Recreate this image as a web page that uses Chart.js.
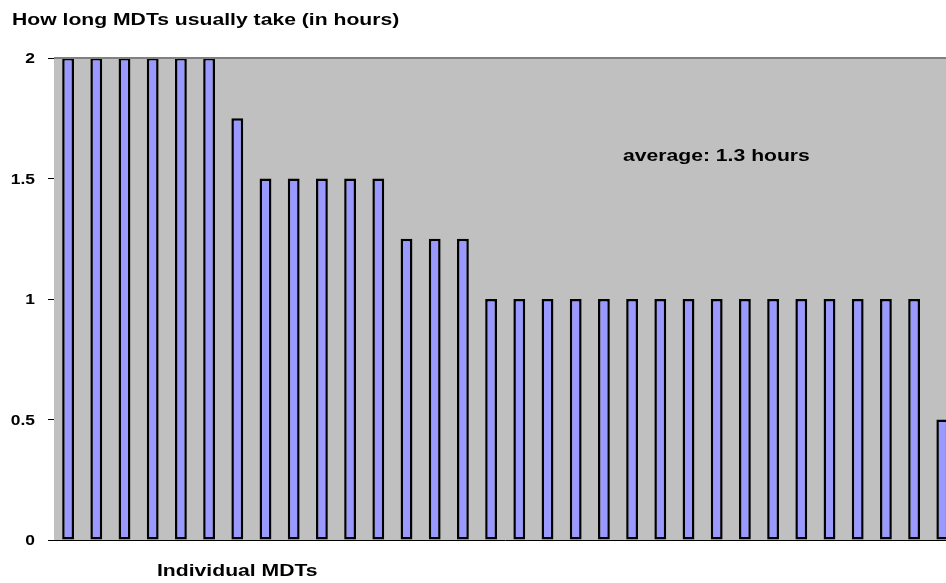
<!DOCTYPE html>
<html>
<head>
<meta charset="utf-8">
<script src="https://cdn.jsdelivr.net/npm/chart.js@4/dist/chart.umd.min.js"></script>
<style>
  html, body { margin: 0; padding: 0; background: #fff; overflow: hidden; }
  #wrap { position: absolute; left: 0; top: 0; width: 960px; height: 583px; }
</style>
</head>
<body>
<div id="wrap"><canvas id="c"></canvas></div>
<script>
// Hours per MDT meeting, sorted longest first
const mdtLabels = Array.from({ length: 32 }, (_, i) => 'MDT ' + (i + 1));
const hoursTaken = [
  2, 2, 2, 2, 2, 2,
  1.75,
  1.5, 1.5, 1.5, 1.5, 1.5,
  1.25, 1.25, 1.25,
  1, 1, 1, 1, 1, 1, 1, 1, 1, 1, 1, 1, 1, 1, 1, 1,
  0.5
];
const yTickValues = [0, 0.5, 1, 1.5, 2];
const chartTitle = 'How long MDTs usually take (in hours)';
const xAxisTitle = 'Individual MDTs';
const averageNote = 'average: 1.3 hours';

const FONT = '"Liberation Sans", Arial, sans-serif';

// Text in this chart is set wide, so draw it with a horizontal stretch
function wideText(ctx, text, x, y, size, stretch, align) {
  ctx.save();
  ctx.font = 'bold ' + size + 'px ' + FONT;
  ctx.fillStyle = '#000';
  ctx.textBaseline = 'alphabetic';
  const w = ctx.measureText(text).width * stretch;
  let left = x;
  if (align === 'right') left = x - w;
  else if (align === 'center') left = x - w / 2;
  ctx.translate(left, y);
  ctx.scale(stretch, 1);
  ctx.textAlign = 'left';
  ctx.fillText(text, 0, 0);
  ctx.restore();
}

const plotDecor = {
  id: 'plotDecor',
  beforeDatasetsDraw(chart) {
    const { ctx, chartArea: a } = chart;
    ctx.save();
    ctx.fillStyle = '#C0C0C0';
    ctx.fillRect(a.left, a.top, a.right - a.left, a.bottom - a.top);
    ctx.restore();
  },
  afterDatasetsDraw(chart) {
    const { ctx, chartArea: a } = chart;
    ctx.save();
    ctx.strokeStyle = '#808080';
    ctx.lineWidth = 2;
    ctx.beginPath();
    ctx.moveTo(a.left, a.top);
    ctx.lineTo(a.right, a.top);
    ctx.stroke();
    ctx.restore();
  },
  afterDraw(chart) {
    const { ctx } = chart;
    const y = chart.scales.y;
    y.ticks.forEach(t => {
      const py = y.getPixelForValue(t.value);
      wideText(ctx, String(t.value), 35, py + 5, 14.5, 1.2, 'right');
    });
    wideText(ctx, chartTitle, 12, 25, 16.8, 1.26, 'left');
    wideText(ctx, xAxisTitle, 157, 576, 16.8, 1.26, 'left');
    wideText(ctx, averageNote, 623, 161, 16.8, 1.26, 'left');
  }
};

new Chart(document.getElementById('c'), {
  type: 'bar',
  data: {
    labels: mdtLabels,
    datasets: [{
      data: hoursTaken,
      backgroundColor: '#9999FF',
      borderColor: '#000000',
      borderWidth: 2.5,
      borderSkipped: false,
      barPercentage: 0.42,
      categoryPercentage: 1
    }]
  },
  options: {
    responsive: true,
    maintainAspectRatio: false,
    animation: false,
    events: [],
    layout: { padding: { top: 58, bottom: 43, left: 0, right: 3.6 } },
    plugins: {
      legend: { display: false },
      title: { display: false },
      tooltip: { enabled: false }
    },
    scales: {
      x: {
        offset: true,
        afterFit(scale) { scale.height = 0; },
        ticks: { display: false },
        grid: { display: false },
        border: { display: true, color: '#000', width: 1 }
      },
      y: {
        min: 0,
        max: 2,
        afterBuildTicks(scale) {
          scale.ticks = yTickValues.map(v => ({ value: v }));
        },
        afterFit(scale) { scale.width = 54; },
        ticks: { display: false },
        grid: {
          drawOnChartArea: false,
          drawTicks: true,
          tickLength: 6,
          color: '#000',
          lineWidth: 1
        },
        border: { display: true, color: '#000', width: 1 }
      }
    }
  },
  plugins: [plotDecor]
});
</script>
</body>
</html>
